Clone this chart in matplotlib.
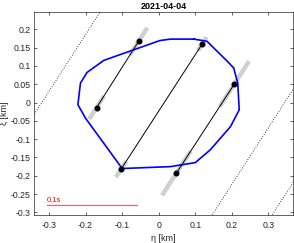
import numpy as np
import matplotlib
matplotlib.use("Agg")
import matplotlib.pyplot as plt

plt.rcParams['font.family'] = ['Liberation Sans', 'DejaVu Sans']

# Shape outline (eta, xi) in km
shape_eta = [0.096, 0.032, 0.003, -0.150, -0.196, -0.214, -0.221, -0.200, -0.103, -0.096,
             0.032, 0.100, 0.141, 0.196, 0.220, 0.216, 0.205, 0.191, 0.132, 0.096]
shape_xi = [0.173, 0.173, 0.169, 0.115, 0.082, 0.053, -0.006, -0.043, -0.176, -0.180,
            -0.175, -0.164, -0.129, -0.066, -0.020, 0.053, 0.094, 0.109, 0.167, 0.173]

# Chords: start (eta, xi) and end (eta, xi)
chord_eta1 = [-0.170, -0.103, 0.048]
chord_xi1 = [-0.014, -0.182, -0.193]
chord_eta2 = [-0.055, 0.119, 0.207]
chord_xi2 = [0.167, 0.160, 0.051]
# timing uncertainty half-lengths (km) at start and end
unc1 = [0.037, 0.026, 0.072]
unc2 = [0.044, 0.022, 0.074]

# Dotted negative chords: point on line (eta, xi)
neg_eta = [-0.159, 0.146, 0.310]
neg_xi = [0.249, -0.307, -0.307]
slope = 1.55

# Scale bar
bar_eta = [-0.305, -0.059]
bar_xi = -0.280
bar_label = "0.1s"

title = "2021-04-04"
xlabel = "η [km]"
ylabel = "ξ [km]"
xticks = [-0.3, -0.2, -0.1, 0, 0.1, 0.2, 0.3]
yticks = [-0.3, -0.25, -0.2, -0.15, -0.1, -0.05, 0, 0.05, 0.1, 0.15, 0.2]

fig = plt.figure(figsize=(2.94, 2.43), dpi=100)
ax = fig.add_axes([34/294, 28/243, 259/294, 203/243])

# direction unit vector
d = np.array([1.0, slope]); d /= np.linalg.norm(d)

# dotted lines
for e, x in zip(neg_eta, neg_xi):
    t = np.array([-1.0, 1.0])
    ax.plot(e + t*d[0], x + t*d[1], ls=(0, (1, 2)), color='black', lw=0.6)

# gray uncertainty bars
for i in range(3):
    for (e, x, u) in [(chord_eta1[i], chord_xi1[i], unc1[i]), (chord_eta2[i], chord_xi2[i], unc2[i])]:
        ax.plot([e - u*d[0], e + u*d[0]], [x - u*d[1], x + u*d[1]],
                color='#d0d0d0', lw=3.2, solid_capstyle='butt', zorder=2)

ax.plot(shape_eta, shape_xi, color='#0000ff', lw=1.2, zorder=3)

for i in range(3):
    ax.plot([chord_eta1[i], chord_eta2[i]], [chord_xi1[i], chord_xi2[i]],
            color='black', lw=0.7, marker='o', markersize=3.3, zorder=4)

ax.plot(bar_eta, [bar_xi, bar_xi], color='#f06060', lw=0.8)
ax.text(bar_eta[0], bar_xi + 0.003, bar_label, color='#ff0000', fontsize=5.5,
        ha='left', va='bottom')

ax.set_xlim(-0.341, 0.367)
ax.set_ylim(-0.307, 0.247)
ax.set_xticks(xticks)
ax.set_yticks(yticks)
ax.set_xticklabels([f"{v:g}" for v in xticks])
ax.set_yticklabels([f"{v:g}" for v in yticks])
ax.tick_params(direction='in', top=True, right=True, labelsize=6.3, length=2.5,
               width=0.5, colors='#262626')
ax.tick_params(axis='x', pad=4.5)
ax.tick_params(axis='y', pad=2.5)
for s in ax.spines.values():
    s.set_linewidth(0.5)
    s.set_color('#262626')
ax.set_title(title, fontsize=6.5, fontweight='bold', pad=2)
ax.set_xlabel(xlabel, fontsize=6.5, labelpad=3, color='#262626')
ax.set_ylabel(ylabel, fontsize=6.5, labelpad=1, color='#262626')

fig.savefig("out.png", dpi=100)
